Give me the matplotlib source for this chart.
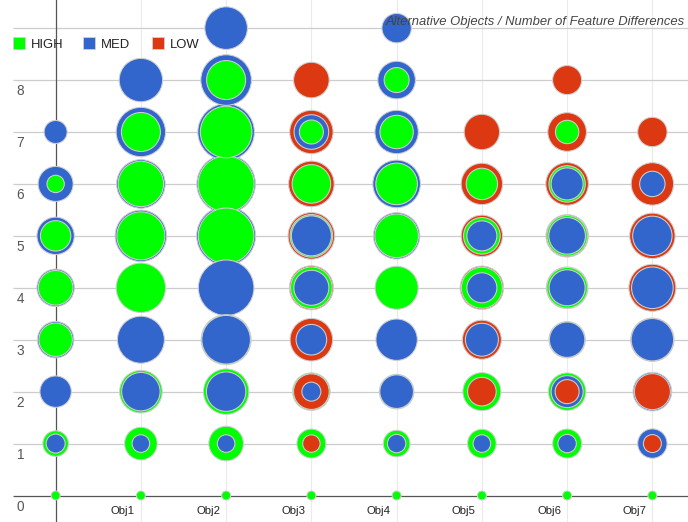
import matplotlib
matplotlib.use("Agg")
import matplotlib.pyplot as plt
from matplotlib.patches import Rectangle
from matplotlib.transforms import offset_copy

plt.rcParams["font.family"] = ["Liberation Sans", "DejaVu Sans"]

# ---- data -------------------------------------------------------------
categories = ["", "Obj1", "Obj2", "Obj3", "Obj4", "Obj5", "Obj6", "Obj7"]
diff_levels = [0, 1, 2, 3, 4, 5, 6, 7, 8, 9]
y_tick_labels = ["0", "1", "2", "3", "4", "5", "6", "7", "8"]
title = "Alternative Objects / Number of Feature Differences"

series_names = ["HIGH", "MED", "LOW"]
series_colors = ["#00ff00", "#3366cc", "#dc3912"]

# bubble weights, one row per number of feature differences (0..9),
# one column per object (0, Obj1..Obj7); 0 means no bubble
high = [
    [4.5, 4.5, 4.5, 4.5, 4.5, 4.5, 4.5, 4.5],
    [12.8, 16.3, 17.3, 14.5, 13.3, 14.3, 14.5, 0],
    [0, 21.3, 22.7, 18.8, 17.3, 19.0, 18.7, 0],
    [16.7, 0, 25.0, 0, 0, 0, 18.2, 0],
    [17.3, 24.7, 0, 20.8, 21.5, 20.5, 20.3, 0],
    [15.2, 24.0, 27.8, 21.3, 21.8, 18.3, 20.3, 0],
    [8.7, 22.7, 28.0, 19.3, 20.8, 15.7, 18.2, 0],
    [0, 19.5, 25.8, 12.0, 16.7, 0, 11.7, 0],
    [0, 0, 19.5, 0, 12.5, 0, 0, 0],
    [0, 0, 0, 0, 0, 0, 0, 0],
]
med = [
    [0, 0, 0, 0, 0, 0, 0, 0],
    [9.5, 8.8, 8.8, 0, 9.2, 8.8, 9.2, 14.7],
    [15.7, 19.2, 19.7, 9.5, 16.8, 0, 16.0, 19.3],
    [18.2, 23.5, 24.3, 15.3, 20.7, 16.5, 17.7, 21.2],
    [18.7, 0, 27.8, 17.5, 0, 15.0, 18.0, 20.8],
    [18.7, 25.7, 29.5, 20.0, 23.2, 15.0, 18.3, 19.7],
    [17.5, 24.3, 29.3, 0, 23.8, 0, 16.0, 12.7],
    [11.5, 24.7, 28.3, 17.3, 21.7, 0, 0, 0],
    [0, 21.7, 25.3, 0, 18.8, 0, 0, 0],
    [0, 0, 21.3, 0, 14.7, 0, 0, 0],
]
low = [
    [0, 0, 0, 0, 0, 0, 0, 0],
    [0, 0, 0, 8.7, 0, 0, 0, 9.0],
    [0, 0, 0, 17.8, 0, 14.3, 12.0, 18.0],
    [0, 0, 0, 21.3, 0, 19.5, 0, 21.7],
    [0, 0, 0, 22.0, 0, 21.7, 20.8, 23.5],
    [0, 0, 0, 23.3, 0, 20.7, 21.2, 22.7],
    [0, 0, 0, 22.8, 0, 20.7, 21.3, 21.2],
    [0, 0, 0, 21.7, 0, 17.7, 19.3, 14.7],
    [0, 0, 0, 17.8, 0, 0, 14.5, 0],
    [0, 0, 0, 0, 0, 0, 0, 0],
]

# ---- figure ---------------------------------------------------------------
W, H, DPI = 688, 522, 100
fig = plt.figure(figsize=(W / DPI, H / DPI), dpi=DPI)
fig.patch.set_facecolor("white")

x_lo, x_hi = -0.5, len(categories) - 0.5
y_lo, y_hi = -0.5, 9.5
left_px, x_unit = 13, 85.25
zero_px, y_unit = 495.5, 51.93
ax = fig.add_axes([
    left_px / W,
    (H - (zero_px - y_lo * y_unit)) / H,
    (x_hi - x_lo) * x_unit / W,
    (y_hi - y_lo) * y_unit / H,
])
ax.set_xlim(x_lo, x_hi)
ax.set_ylim(y_lo, y_hi)
ax.axis("off")

# grid and axes lines
for i in range(1, len(categories)):
    ax.vlines(i, -0.7, 9.7, color="#ebebeb", lw=0.8, zorder=0, clip_on=False)
for lv in diff_levels[1:]:
    ax.hlines(lv, x_lo, x_hi, color="#cccccc", lw=0.9, zorder=1)
ax.hlines(0, x_lo, x_hi, color="#555555", lw=0.9, zorder=2)
ax.vlines(0, -0.7, 9.7, color="#555555", lw=0.9, zorder=2, clip_on=False)

# bubbles, biggest first so smaller ones sit on top
bubbles = []
for grid, color in zip([high, med, low], series_colors):
    for yi, row in enumerate(grid):
        for xi, val in enumerate(row):
            if val > 0:
                bubbles.append((val, xi, diff_levels[yi], color))
bubbles.sort(key=lambda b: -b[0])

px_to_pt = 72.0 / DPI
xs = [b[1] for b in bubbles]
ys = [b[2] for b in bubbles]
sizes = [(2 * b[0] * px_to_pt) ** 2 for b in bubbles]
cols = [b[3] for b in bubbles]
ax.scatter(xs, ys, s=sizes, c=cols, edgecolors="#d0d0d0", linewidths=0.75,
           zorder=3, clip_on=False)

# tick labels
ylab_tr = offset_copy(ax.transData, fig=fig, x=3.7, y=-11, units="dots")
for lv, lab in zip(diff_levels, y_tick_labels):
    ax.text(x_lo, lv, lab, transform=ylab_tr, ha="left", va="center",
            fontsize=9.8, color="#555555")

xlab_tr = offset_copy(ax.transData, fig=fig, x=-18, y=-16, units="dots")
for i, lab in enumerate(categories):
    if lab:
        ax.text(i, 0, lab, transform=xlab_tr, ha="center", va="center",
                fontsize=8.2, color="#222222")

# title
fig.text(685 / W, 1 - 25.5 / H, title, ha="right", va="baseline",
         style="italic", fontsize=9.4, color="#444444")

# legend
legend_x = [13, 83, 152]
for name, color, lx in zip(series_names, series_colors, legend_x):
    fig.add_artist(Rectangle((lx / W, 1 - 49 / H), 12 / W, 12 / H,
                             facecolor=color, edgecolor="#d0d0d0", lw=0.6,
                             transform=fig.transFigure))
    fig.text((lx + 18) / W, 1 - 48 / H, name, ha="left", va="baseline",
             fontsize=9.4, color="#222222")

fig.savefig("out.png", dpi=DPI, facecolor="white")
